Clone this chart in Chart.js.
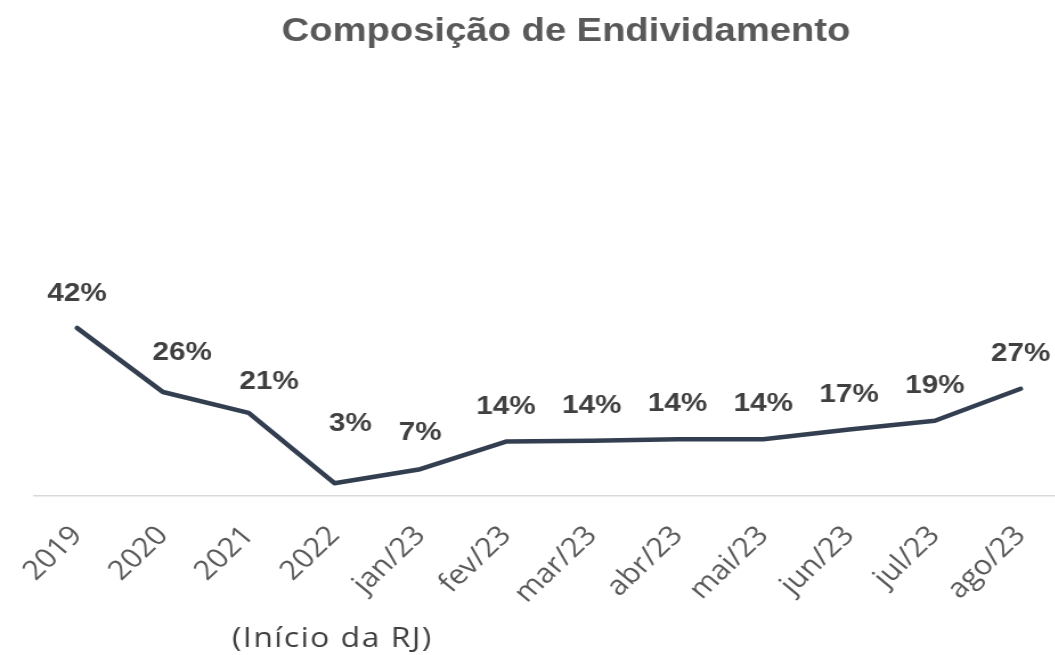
<!DOCTYPE html>
<html><head><meta charset="utf-8">
<script src="https://cdn.jsdelivr.net/npm/chart.js@4.4.1/dist/chart.umd.min.js"></script>
<style>
html,body{margin:0;padding:0;overflow:hidden;background:#fff;width:1055px;height:655px}
#wrap{position:absolute;left:0;top:0;width:935px;height:655px;transform:scaleX(1.14);transform-origin:0 0}
</style></head><body>
<div id="wrap"><canvas id="c" width="935" height="655"></canvas></div>
<script>
const categories = ['2019','2020','2021','2022','jan/23','fev/23','mar/23','abr/23','mai/23','jun/23','jul/23','ago/23'];
const debtShare = [42.0, 26.0, 20.8, 3.2, 6.7, 13.6, 13.8, 14.2, 14.2, 16.6, 18.8, 26.8];
const chartTitle = 'Composição de Endividamento';
const rjNote = '(Início da RJ)';
const rjIndex = 3;

const labelNudge = {0:[0,-34],1:[17,-39],2:[18,-31],3:[14,-59],4:[0,-36]};

const decor = {
  id: 'decor',
  afterDatasetsDraw(chart) {
    const ctx = chart.ctx;
    const meta = chart.getDatasetMeta(0);
    ctx.save();
    ctx.font = 'bold 26px "Liberation Sans", Arial, sans-serif';
    ctx.fillStyle = '#404040';
    ctx.textAlign = 'center';
    ctx.textBaseline = 'middle';
    meta.data.forEach((pt, i) => {
      const n = labelNudge[i] || [0,-35];
      ctx.fillText(Math.round(debtShare[i]) + '%', pt.x + n[0], pt.y + n[1]);
    });
    ctx.restore();
  },
  afterDraw(chart) {
    const ctx = chart.ctx;
    ctx.save();
    ctx.font = 'bold 33.5px "Liberation Sans", Arial, sans-serif';
    ctx.fillStyle = '#595959';
    ctx.textAlign = 'center';
    ctx.textBaseline = 'alphabetic';
    ctx.fillText(chartTitle, 496.5, 41);
    const xs = chart.scales.x;
    ctx.font = '28px "Open Sans", sans-serif';
    ctx.fillStyle = '#404040';
    ctx.textBaseline = 'middle';
    if ('letterSpacing' in ctx) ctx.letterSpacing = '1.3px';
    ctx.fillText(rjNote, xs.getPixelForValue(rjIndex) - 1.8, 639);
    ctx.restore();
  }
};

new Chart(document.getElementById('c'), {
  type: 'line',
  data: {
    labels: categories,
    datasets: [{
      data: debtShare,
      borderColor: '#333f50',
      borderWidth: 4.5,
      pointRadius: 0,
      tension: 0,
      borderCapStyle: 'round',
      borderJoinStyle: 'round',
      fill: false
    }]
  },
  options: {
    responsive: false,
    animation: false,
    layout: { padding: { top: 96, left: 30, right: 1, bottom: 0 } },
    plugins: { legend: { display: false }, title: { display: false }, tooltip: { enabled: false } },
    scales: {
      x: {
        offset: true,
        grid: { display: false },
        border: { display: true, color: '#d9d9d9', width: 1.5 },
        ticks: {
          color: '#595959',
          font: { family: '"Open Sans", sans-serif', size: 27 },
          minRotation: 47, maxRotation: 47,
          autoSkip: false,
          padding: 16
        },
        afterFit(scale) { scale.height = 159; }
      },
      y: { display: false, min: 0, max: 100 }
    }
  },
  plugins: [decor]
});
</script>
</body></html>
